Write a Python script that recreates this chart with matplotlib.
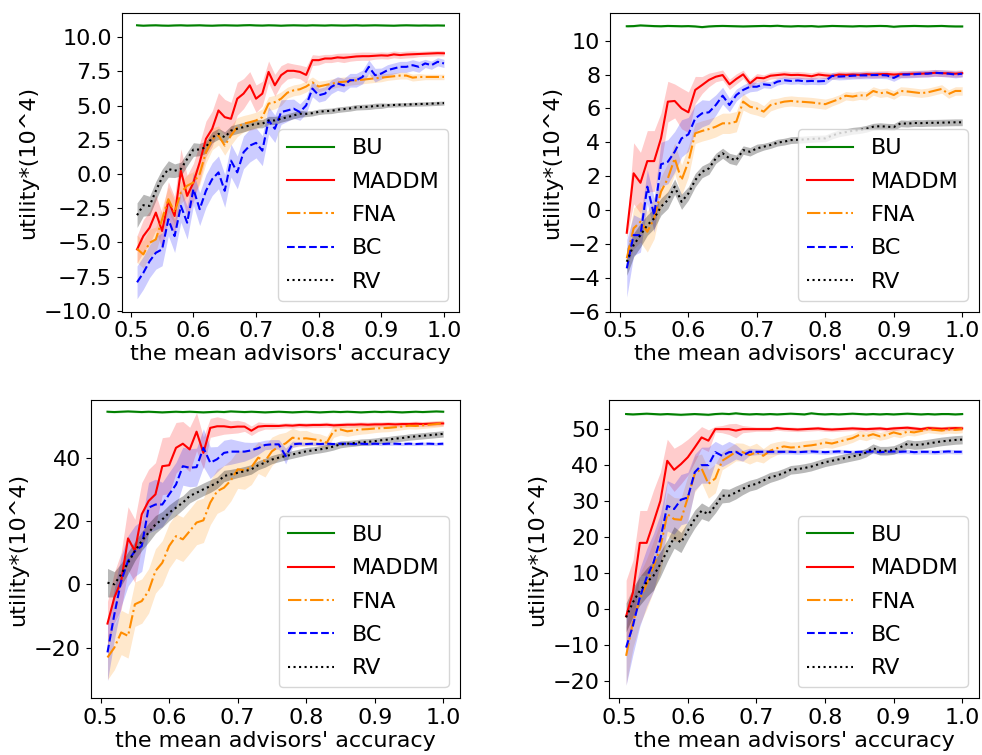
import matplotlib
matplotlib.use("Agg")
import matplotlib.pyplot as plt
import numpy as np

plt.rcParams['font.family'] = ['DejaVu Sans']

ACCURACY = [0.51, 0.52, 0.53, 0.54, 0.55, 0.56, 0.57, 0.58, 0.59, 0.60,
            0.61, 0.62, 0.63, 0.64, 0.65, 0.66, 0.67, 0.68, 0.69, 0.70,
            0.71, 0.72, 0.73, 0.74, 0.75, 0.76, 0.77, 0.78, 0.79, 0.80,
            0.81, 0.82, 0.83, 0.84, 0.85, 0.86, 0.87, 0.88, 0.89, 0.90,
            0.91, 0.92, 0.93, 0.94, 0.95, 0.96, 0.97, 0.98, 0.99, 1.00]

METHODS = ["BU", "MADDM", "FNA", "BC", "RV"]
X_LABEL = "the mean advisors' accuracy"
Y_LABEL = "utility*(10^4)"

# ---------------- panel 1 (top-left) ----------------
BU1 = [10.88, 10.85, 10.87, 10.88, 10.86, 10.85, 10.87, 10.88, 10.86, 10.87,
       10.88, 10.86, 10.85, 10.87, 10.88, 10.87, 10.86, 10.88, 10.89, 10.87,
       10.86, 10.88, 10.87, 10.85, 10.87, 10.88, 10.87, 10.86, 10.88, 10.87,
       10.86, 10.88, 10.87, 10.86, 10.87, 10.88, 10.86, 10.87, 10.88, 10.87,
       10.86, 10.85, 10.87, 10.88, 10.87, 10.86, 10.87, 10.86, 10.87, 10.86]
MA1 = [-5.51, -4.54, -3.93, -2.82, -4.17, -1.96, -3.07, 0.24, -1.60, -0.62,
       0.85, 2.57, 3.31, 4.65, 4.16, 4.04, 5.51, 5.88, 6.49, 5.51,
       5.88, 7.47, 6.49, 7.23, 7.55, 7.55, 7.47, 7.25, 8.33, 8.33,
       8.45, 8.45, 8.53, 8.50, 8.55, 8.60, 8.62, 8.62, 8.65, 8.68,
       8.66, 8.75, 8.70, 8.74, 8.76, 8.78, 8.80, 8.82, 8.84, 8.83]
FN1 = [-5.47, -5.88, -5.03, -4.78, -3.31, -1.84, -2.82, -1.35, -0.86, -0.62,
       0.00, 1.59, 2.57, 2.82, 2.08, 2.82, 3.43, 3.68, 3.79, 3.92,
       4.16, 5.15, 5.26, 5.51, 5.95, 6.12, 6.20, 6.40, 6.70, 6.40,
       6.50, 6.60, 6.70, 6.75, 6.80, 6.85, 6.90, 6.95, 7.00, 7.05,
       7.10, 7.15, 7.20, 7.20, 7.05, 7.10, 7.10, 7.10, 7.10, 7.10]
BC1 = [-7.92, -7.23, -6.38, -5.76, -5.51, -3.31, -4.54, -2.33, -3.56, -1.10,
       -2.57, -1.23, -0.37, 0.12, -1.23, 0.98, 0.12, 1.59, 2.08, 2.28,
       1.71, 3.92, 3.31, 4.53, 4.65, 4.78, 4.53, 5.02, 6.25, 5.76,
       5.88, 6.37, 6.62, 6.49, 6.86, 6.86, 7.10, 7.84, 7.23, 7.35,
       7.60, 7.72, 7.84, 7.84, 7.96, 7.84, 8.09, 7.96, 8.21, 8.09]
RV1 = [-3.01, -2.28, -2.33, -1.23, -0.25, 0.37, 0.24, 0.37, 1.10, 1.79,
       1.79, 1.96, 2.69, 2.94, 2.69, 3.18, 3.31, 3.43, 3.55, 3.68,
       3.68, 3.92, 3.92, 4.04, 4.16, 4.29, 4.41, 4.40, 4.45, 4.55,
       4.60, 4.62, 4.70, 4.75, 4.80, 4.88, 4.90, 4.92, 4.98, 5.00,
       5.03, 5.05, 5.07, 5.08, 5.10, 5.12, 5.13, 5.15, 5.17, 5.19]
SD_BU1 = [0.06, 0.06, 0.06, 0.06, 0.06, 0.06, 0.06, 0.06, 0.06, 0.06,
          0.06, 0.06, 0.06, 0.06, 0.06, 0.06, 0.06, 0.06, 0.06, 0.06,
          0.06, 0.06, 0.06, 0.06, 0.06, 0.06, 0.06, 0.06, 0.06, 0.06,
          0.06, 0.06, 0.06, 0.06, 0.06, 0.06, 0.06, 0.06, 0.06, 0.06,
          0.06, 0.06, 0.06, 0.06, 0.06, 0.06, 0.06, 0.06, 0.06, 0.06]
SD_MA1 = [1.0, 1.2, 1.2, 1.3, 1.3, 1.4, 1.4, 1.6, 1.5, 1.4,
          1.4, 1.3, 1.3, 1.3, 1.3, 1.2, 1.2, 1.1, 1.0, 1.0,
          0.9, 0.8, 0.8, 0.7, 0.6, 0.5, 0.5, 0.6, 0.4, 0.35,
          0.3, 0.3, 0.3, 0.35, 0.3, 0.3, 0.3, 0.3, 0.25, 0.25,
          0.25, 0.25, 0.25, 0.25, 0.25, 0.2, 0.2, 0.2, 0.2, 0.2]
SD_FN1 = [1.0, 1.0, 1.0, 0.9, 0.9, 0.9, 0.9, 0.8, 0.8, 0.8,
          0.8, 0.8, 0.8, 0.7, 0.7, 0.7, 0.7, 0.6, 0.6, 0.6,
          0.6, 0.5, 0.5, 0.5, 0.4, 0.4, 0.4, 0.4, 0.4, 0.4,
          0.35, 0.35, 0.35, 0.35, 0.3, 0.3, 0.3, 0.3, 0.3, 0.3,
          0.25, 0.25, 0.25, 0.25, 0.25, 0.25, 0.2, 0.2, 0.2, 0.2]
SD_BC1 = [1.2, 1.2, 1.2, 1.2, 1.2, 1.2, 1.2, 1.2, 1.2, 1.2,
          1.2, 1.2, 1.2, 1.2, 1.2, 1.2, 1.2, 1.2, 1.2, 1.1,
          1.1, 1.0, 1.0, 0.9, 0.8, 0.7, 0.6, 0.6, 0.6, 0.5,
          0.5, 0.5, 0.5, 0.5, 0.5, 0.5, 0.5, 0.5, 0.5, 0.4,
          0.4, 0.4, 0.4, 0.4, 0.4, 0.4, 0.3, 0.3, 0.3, 0.3]
SD_RV1 = [0.9, 0.8, 0.7, 0.7, 0.6, 0.6, 0.5, 0.5, 0.5, 0.5,
          0.45, 0.45, 0.4, 0.4, 0.4, 0.35, 0.35, 0.35, 0.3, 0.3,
          0.3, 0.3, 0.3, 0.25, 0.25, 0.25, 0.25, 0.2, 0.2, 0.2,
          0.2, 0.2, 0.2, 0.2, 0.2, 0.2, 0.2, 0.2, 0.2, 0.2,
          0.15, 0.15, 0.15, 0.15, 0.15, 0.15, 0.15, 0.15, 0.15, 0.15]

# ---------------- panel 2 (top-right) ----------------
BU2 = [10.85, 10.86, 10.90, 10.88, 10.86, 10.85, 10.87, 10.86, 10.85, 10.86,
       10.84, 10.80, 10.84, 10.86, 10.87, 10.86, 10.85, 10.84, 10.85, 10.86,
       10.87, 10.86, 10.88, 10.85, 10.84, 10.86, 10.85, 10.86, 10.83, 10.85,
       10.87, 10.86, 10.85, 10.84, 10.86, 10.85, 10.86, 10.87, 10.86, 10.82,
       10.85, 10.86, 10.87, 10.86, 10.85, 10.86, 10.87, 10.85, 10.84, 10.84]
MA2 = [-1.34, 2.17, 1.61, 2.89, 2.89, 4.23, 6.40, 6.44, 6.00, 5.77,
       7.09, 7.38, 7.68, 7.87, 7.97, 7.42, 7.74, 8.01, 7.48, 7.81,
       7.78, 7.93, 7.97, 8.01, 7.97, 7.98, 7.95, 7.90, 8.00, 7.95,
       7.92, 8.00, 7.98, 8.00, 7.98, 8.02, 8.00, 8.02, 8.03, 8.00,
       8.02, 8.03, 8.05, 8.05, 8.07, 8.10, 8.08, 8.07, 8.05, 8.08]
FN2 = [-2.85, -1.08, -0.69, -1.28, -0.49, 1.08, 1.87, 3.05, 1.77, 2.85,
       4.53, 4.67, 4.78, 4.92, 5.12, 5.12, 5.22, 6.40, 6.10, 6.00,
       5.81, 6.20, 6.30, 6.40, 6.44, 6.40, 6.38, 6.35, 6.30, 6.25,
       6.40, 6.55, 6.75, 6.70, 6.78, 6.75, 7.03, 6.90, 6.95, 6.79,
       7.03, 7.00, 6.95, 6.90, 6.95, 7.05, 7.15, 6.85, 7.03, 7.03]
BC2 = [-3.44, -1.48, -1.48, 1.38, -0.30, 2.70, 2.85, 3.44, 4.23, 4.47,
       5.41, 5.71, 5.77, 6.20, 6.75, 6.20, 6.79, 7.09, 7.28, 7.28,
       7.42, 7.38, 7.58, 7.66, 7.62, 7.65, 7.60, 7.62, 7.60, 7.62,
       7.92, 7.88, 7.90, 7.93, 7.95, 7.95, 7.97, 7.97, 7.95, 7.80,
       8.00, 8.00, 8.02, 8.05, 8.05, 8.10, 8.08, 8.05, 8.00, 8.05]
RV2 = [-3.05, -2.07, -1.48, -0.89, -0.49, 0.20, 0.59, 1.38, 0.49, 0.98,
       1.77, 2.26, 2.46, 3.05, 3.35, 3.05, 2.95, 3.54, 3.44, 3.64,
       3.74, 3.84, 3.98, 4.04, 4.13, 4.15, 4.17, 4.20, 4.22, 4.23,
       4.40, 4.53, 4.60, 4.68, 4.72, 4.80, 4.92, 4.95, 4.92, 4.90,
       5.12, 5.10, 5.14, 5.13, 5.15, 5.15, 5.16, 5.17, 5.18, 5.18]
SD_BU2 = SD_BU1
SD_MA2 = [0.3, 1.8, 1.8, 1.8, 1.8, 1.5, 1.2, 1.0, 1.2, 1.2,
          0.8, 0.5, 0.4, 0.3, 0.3, 0.3, 0.3, 0.25, 0.25, 0.25,
          0.2, 0.2, 0.2, 0.2, 0.2, 0.2, 0.2, 0.2, 0.2, 0.2,
          0.2, 0.2, 0.2, 0.2, 0.2, 0.2, 0.2, 0.2, 0.2, 0.2,
          0.2, 0.2, 0.2, 0.2, 0.2, 0.2, 0.2, 0.2, 0.2, 0.2]
SD_FN2 = [0.5, 1.2, 1.2, 1.2, 1.2, 0.9, 0.9, 0.9, 0.9, 0.9,
          0.6, 0.6, 0.6, 0.6, 0.6, 0.6, 0.6, 0.5, 0.4, 0.4,
          0.35, 0.35, 0.3, 0.3, 0.3, 0.3, 0.3, 0.3, 0.3, 0.3,
          0.25, 0.25, 0.25, 0.25, 0.25, 0.25, 0.25, 0.25, 0.25, 0.25,
          0.25, 0.25, 0.25, 0.25, 0.25, 0.25, 0.25, 0.25, 0.25, 0.25]
SD_BC2 = [1.7, 1.2, 1.0, 1.0, 1.0, 1.3, 1.3, 1.2, 1.1, 1.0,
          0.8, 0.8, 0.7, 0.6, 0.5, 0.4, 0.35, 0.3, 0.3, 0.25,
          0.2, 0.2, 0.2, 0.2, 0.2, 0.2, 0.2, 0.2, 0.2, 0.2,
          0.2, 0.2, 0.2, 0.2, 0.2, 0.2, 0.2, 0.2, 0.2, 0.2,
          0.2, 0.2, 0.2, 0.2, 0.2, 0.2, 0.2, 0.2, 0.2, 0.2]
SD_RV2 = [0.8, 0.7, 0.7, 0.6, 0.6, 0.5, 0.5, 0.45, 0.45, 0.4,
          0.4, 0.35, 0.35, 0.3, 0.3, 0.3, 0.3, 0.25, 0.25, 0.25,
          0.2, 0.2, 0.2, 0.2, 0.2, 0.2, 0.2, 0.2, 0.2, 0.2,
          0.2, 0.2, 0.2, 0.2, 0.2, 0.2, 0.2, 0.2, 0.2, 0.2,
          0.2, 0.2, 0.2, 0.2, 0.2, 0.2, 0.2, 0.2, 0.2, 0.2]

# ---------------- panel 3 (bottom-left) ----------------
BU3 = [54.5, 54.4, 54.5, 54.6, 54.5, 54.4, 54.5, 54.4, 54.3, 54.4,
       54.5, 54.4, 54.5, 54.4, 54.3, 54.4, 54.5, 54.4, 54.6, 54.5,
       54.4, 54.5, 54.4, 54.3, 54.4, 54.5, 54.4, 54.3, 54.4, 54.5,
       54.4, 54.3, 54.4, 54.5, 54.4, 54.5, 54.4, 54.3, 54.4, 54.5,
       54.4, 54.5, 54.4, 54.3, 54.4, 54.5, 54.4, 54.5, 54.6, 54.5]
MA3 = [-12.4, -4.2, 1.05, 14.5, 10.5, 22.1, 26.3, 28.4, 37.3, 37.6,
       43.1, 44.4, 42.6, 48.2, 41.5, 49.4, 49.9, 49.9, 49.6, 49.8,
       49.8, 48.5, 49.8, 50.0, 50.0, 50.0, 50.2, 50.1, 50.3, 50.2,
       50.3, 50.3, 50.4, 50.2, 50.3, 50.4, 50.4, 50.5, 50.4, 50.5,
       50.5, 50.6, 50.5, 50.6, 50.6, 50.7, 50.6, 50.7, 50.8, 50.8]
FN3 = [-23.1, -20.0, -15.2, -16.3, -6.3, -5.3, -2.1, 4.2, 6.8, 12.1,
       15.2, 14.2, 16.8, 19.5, 20.2, 25.8, 29.4, 30.5, 32.8, 36.3,
       36.0, 37.0, 40.0, 38.9, 42.0, 43.5, 44.5, 46.3, 46.0, 46.1,
       45.8, 45.5, 44.7, 48.4, 48.9, 48.3, 48.6, 48.9, 49.0, 49.2,
       49.3, 49.4, 49.6, 49.8, 50.1, 50.0, 50.2, 50.4, 50.6, 50.9]
BC3 = [-21.5, -9.5, 1.05, 7.4, 10.5, 12.1, 24.2, 25.2, 25.2, 28.4,
       31.5, 37.3, 36.8, 37.0, 43.1, 38.4, 39.5, 41.5, 41.9, 41.9,
       41.9, 42.3, 43.0, 44.0, 44.2, 44.2, 40.5, 44.2, 44.4, 44.3,
       44.4, 44.3, 44.4, 44.3, 44.4, 44.4, 44.3, 44.4, 44.3, 44.4,
       44.3, 44.4, 44.4, 44.3, 44.4, 44.3, 44.4, 44.4, 44.3, 44.4]
RV3 = [0.5, 0.0, 3.2, 6.8, 10.5, 13.7, 16.3, 18.9, 20.5, 22.6,
       24.2, 25.8, 27.9, 28.9, 30.0, 31.0, 32.1, 34.2, 34.7, 35.2,
       35.7, 36.3, 37.6, 38.4, 39.4, 40.0, 40.5, 41.0, 41.5, 42.0,
       42.3, 42.6, 43.0, 43.5, 44.2, 44.4, 44.6, 44.9, 45.0, 45.2,
       45.5, 45.7, 46.0, 46.2, 46.5, 46.7, 46.9, 47.1, 47.3, 47.5]
SD_BU3 = [0.3, 0.3, 0.3, 0.3, 0.3, 0.3, 0.3, 0.3, 0.3, 0.3,
          0.3, 0.3, 0.3, 0.3, 0.3, 0.3, 0.3, 0.3, 0.3, 0.3,
          0.3, 0.3, 0.3, 0.3, 0.3, 0.3, 0.3, 0.3, 0.3, 0.3,
          0.3, 0.3, 0.3, 0.3, 0.3, 0.3, 0.3, 0.3, 0.3, 0.3,
          0.3, 0.3, 0.3, 0.3, 0.3, 0.3, 0.3, 0.3, 0.3, 0.3]
SD_MA3 = [7, 8, 9, 10, 10, 10, 10, 10, 9, 9,
          8, 7, 7, 6, 5, 3, 3, 2.5, 2, 2,
          1.5, 1.5, 1.5, 1.0, 1.0, 0.8, 0.8, 0.8, 0.8, 0.8,
          0.8, 0.8, 0.8, 0.8, 0.8, 0.8, 0.8, 0.8, 0.8, 0.8,
          0.8, 0.8, 0.8, 0.8, 0.8, 0.8, 0.8, 0.8, 0.8, 0.8]
SD_FN3 = [7, 7, 7, 7, 7, 7, 7, 7, 7, 7,
          7, 7, 7, 7, 7, 7, 7, 7, 6.5, 6,
          6, 5.5, 5, 5, 4.5, 4, 3.5, 3, 2.5, 2.5,
          2, 2, 2, 2, 1.8, 1.6, 1.5, 1.5, 1.4, 1.3,
          1.2, 1.2, 1.1, 1.0, 1.0, 1.0, 1.0, 1.0, 1.0, 1.0]
SD_BC3 = [9, 8, 8, 8, 8, 8, 8, 8, 7, 7,
          7, 6, 6, 6, 6, 5, 4, 4, 4, 3.5,
          3, 2.5, 2, 1.5, 1.5, 1.5, 2.5, 1.0, 0.6, 0.5,
          0.5, 0.5, 0.5, 0.5, 0.5, 0.5, 0.5, 0.5, 0.5, 0.5,
          0.5, 0.5, 0.5, 0.5, 0.5, 0.5, 0.5, 0.5, 0.5, 0.5]
SD_RV3 = [4.5, 4, 3.5, 3.5, 3, 3, 3, 2.8, 2.5, 2.5,
          2.5, 2.2, 2.2, 2, 2, 2, 1.8, 1.8, 1.6, 1.5,
          1.5, 1.5, 1.4, 1.4, 1.3, 1.3, 1.2, 1.2, 1.2, 1.2,
          1.1, 1.1, 1.1, 1.1, 1.1, 1.0, 1.0, 1.0, 1.0, 1.0,
          1.0, 1.0, 1.0, 1.0, 1.0, 1.0, 1.0, 1.0, 1.0, 1.0]

# ---------------- panel 4 (bottom-right) ----------------
BU4 = [54.2, 54.1, 54.2, 54.3, 54.2, 54.1, 54.2, 54.1, 54.0, 54.1,
       54.2, 54.1, 54.0, 54.2, 54.3, 54.2, 54.4, 54.2, 54.1, 54.2,
       54.1, 54.2, 54.1, 54.2, 54.3, 54.2, 54.1, 54.4, 54.2, 54.1,
       54.2, 54.1, 54.2, 54.3, 54.2, 54.1, 54.2, 54.1, 54.2, 54.1,
       54.2, 54.3, 54.2, 54.1, 54.2, 54.1, 54.2, 54.2, 54.1, 54.2]
MA4 = [-2.0, 4.6, 18.4, 18.4, 24.1, 30.1, 41.2, 38.7, 40.3, 42.2,
       44.9, 47.7, 46.8, 50.0, 50.0, 50.0, 49.6, 50.0, 50.0, 50.0,
       50.0, 50.0, 50.3, 50.1, 50.0, 49.9, 50.0, 50.1, 50.2, 50.0,
       49.9, 50.0, 50.1, 50.2, 50.1, 50.0, 50.1, 50.2, 50.0, 50.2,
       50.3, 50.4, 50.2, 50.0, 50.3, 50.2, 50.1, 50.2, 50.3, 50.2]
FN4 = [-13.0, -3.7, 2.8, 7.0, 12.0, 17.1, 26.4, 25.0, 24.8, 31.0,
       37.5, 39.1, 34.8, 36.3, 41.2, 42.4, 43.7, 43.6, 42.8, 43.6,
       42.6, 44.0, 44.7, 45.2, 44.9, 45.0, 45.3, 45.5, 45.8, 46.3,
       46.0, 46.5, 47.0, 47.5, 48.4, 48.0, 48.6, 48.0, 48.4, 49.1,
       48.6, 49.3, 49.1, 49.5, 50.0, 49.8, 49.6, 49.9, 49.8, 50.0]
BC4 = [-10.7, -4.6, 3.2, 8.8, 13.0, 19.5, 28.7, 27.8, 30.4, 31.0,
       38.0, 40.0, 40.0, 43.6, 42.6, 43.6, 43.7, 42.6, 43.7, 43.7,
       43.7, 43.7, 43.7, 43.7, 43.7, 43.6, 43.7, 43.8, 43.7, 43.6,
       43.7, 43.8, 43.7, 43.6, 43.7, 43.7, 43.8, 43.6, 43.7, 43.8,
       43.7, 43.8, 43.6, 43.7, 43.7, 43.6, 43.7, 43.8, 43.7, 43.7]
RV4 = [-2.3, 1.9, 5.1, 7.4, 9.3, 12.5, 16.2, 19.9, 18.5, 21.8,
       25.0, 27.3, 26.4, 28.7, 31.5, 31.5, 32.4, 33.4, 34.3, 34.8,
       35.7, 36.6, 37.1, 37.8, 38.7, 38.9, 39.2, 39.6, 40.2, 40.8,
       41.2, 41.6, 42.0, 42.4, 42.8, 43.5, 44.7, 44.0, 44.0, 44.2,
       45.0, 45.9, 45.6, 45.7, 46.0, 46.3, 46.6, 46.8, 47.0, 47.1]
SD_BU4 = SD_BU3
SD_MA4 = [10, 9, 9, 9, 9, 8, 6, 6, 5.5, 5,
          4, 3, 3, 0.8, 1, 1.5, 2, 1, 0.8, 0.6,
          0.6, 0.6, 0.6, 0.6, 0.6, 0.6, 0.6, 0.6, 0.6, 0.6,
          0.6, 0.6, 0.6, 0.6, 0.6, 0.6, 0.6, 0.6, 0.6, 0.6,
          0.6, 0.6, 0.6, 0.6, 0.6, 0.6, 0.6, 0.6, 0.6, 0.6]
SD_FN4 = [8, 7, 7, 7, 7, 7, 6, 6, 6, 6,
          5, 4, 4, 4, 2.5, 2.5, 2.5, 2.5, 2.5, 2.5,
          2, 2, 1.8, 1.6, 1.5, 1.5, 1.5, 1.5, 1.4, 1.4,
          1.3, 1.3, 1.3, 1.2, 1.2, 1.2, 1.1, 1.1, 1.1, 1.1,
          1.0, 1.0, 1.0, 1.0, 1.0, 1.0, 1.0, 1.0, 1.0, 1.0]
SD_BC4 = [10.5, 8, 8, 8, 8, 7, 7, 7, 7, 7,
          5, 5, 5, 3, 3, 3, 2, 1.5, 1, 0.8,
          0.7, 0.6, 0.6, 0.6, 0.6, 0.6, 0.6, 0.6, 0.6, 0.6,
          0.6, 0.6, 0.6, 0.6, 0.6, 0.6, 0.6, 0.6, 0.6, 0.6,
          0.6, 0.6, 0.6, 0.6, 0.6, 0.6, 0.6, 0.6, 0.6, 0.6]
SD_RV4 = [4, 4, 4, 4, 4, 3.5, 3, 3, 2.8, 2.5,
          2.5, 2.2, 2, 2, 2, 1.8, 1.8, 1.6, 1.5, 1.5,
          1.4, 1.4, 1.3, 1.3, 1.2, 1.2, 1.2, 1.2, 1.2, 1.2,
          1.2, 1.2, 1.2, 1.2, 1.2, 1.2, 1.2, 1.2, 1.2, 1.2,
          1.2, 1.2, 1.2, 1.2, 1.2, 1.2, 1.2, 1.2, 1.2, 1.2]

Y_LIMITS = [(-10.07, 11.8), (-6.0, 11.65), (-36.0, 58.2), (-24.8, 58.1)]
Y_TICKS = [[-10.0, -7.5, -5.0, -2.5, 0.0, 2.5, 5.0, 7.5, 10.0],
           [-6, -4, -2, 0, 2, 4, 6, 8, 10],
           [-20, 0, 20, 40],
           [-20, -10, 0, 10, 20, 30, 40, 50]]
X_TICKS = [0.5, 0.6, 0.7, 0.8, 0.9, 1.0]

PANELS = [
    [(BU1, SD_BU1), (MA1, SD_MA1), (FN1, SD_FN1), (BC1, SD_BC1), (RV1, SD_RV1)],
    [(BU2, SD_BU2), (MA2, SD_MA2), (FN2, SD_FN2), (BC2, SD_BC2), (RV2, SD_RV2)],
    [(BU3, SD_BU3), (MA3, SD_MA3), (FN3, SD_FN3), (BC3, SD_BC3), (RV3, SD_RV3)],
    [(BU4, SD_BU4), (MA4, SD_MA4), (FN4, SD_FN4), (BC4, SD_BC4), (RV4, SD_RV4)],
]

STYLES = [("green", "-"), ("red", "-"), ("darkorange", "-."), ("blue", "--"), ("black", ":")]
BAND_ALPHA = [0.2, 0.2, 0.2, 0.2, 0.28]

W, H = 982, 755
# axes boxes in pixels: left, top, right, bottom
BOXES = [(121.7, 12.7, 459.3, 311.7), (610.0, 12.7, 979.0, 311.7),
         (90.7, 400.0, 460.0, 698.3), (609.3, 400.0, 979.0, 698.3)]

FS = 16
fig = plt.figure(figsize=(W / 100, H / 100), dpi=100)
x = np.array(ACCURACY)
for p, series in enumerate(PANELS):
    l, t, r, b = BOXES[p]
    ax = fig.add_axes([l / W, 1 - b / H, (r - l) / W, (b - t) / H])
    for k, (mean, sd) in enumerate(series):
        assert len(mean) == 50 and len(sd) == 50, (p, k, len(mean), len(sd))
        m = np.array(mean, dtype=float)
        s = np.array(sd, dtype=float)
        c, ls = STYLES[k]
        ax.plot(x, m, color=c, linestyle=ls, linewidth=1.5, label=METHODS[k])
        ax.fill_between(x, m - s, m + s, color=c, alpha=BAND_ALPHA[k], linewidth=0)
    ax.set_xlim(0.4855, 1.0245)
    ax.set_ylim(*Y_LIMITS[p])
    ax.set_xticks(X_TICKS)
    ax.set_yticks(Y_TICKS[p])
    ax.tick_params(labelsize=FS)
    ax.set_xlabel(X_LABEL, fontsize=FS, labelpad=2)
    ax.set_ylabel(Y_LABEL, fontsize=FS)
    ax.legend(loc="lower right", fontsize=FS, labelspacing=0.6, handlelength=2.1)

fig.savefig("out.png", dpi=100)
